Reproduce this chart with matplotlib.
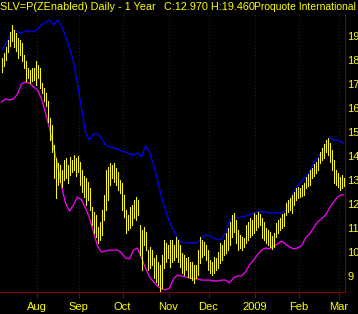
import matplotlib
matplotlib.use("Agg")
import matplotlib.pyplot as plt
import numpy as np

# ---- data ----
highs = [18.08, 18.29, 18.54, 18.83, 19.17, 19.46, 19.25, 19.13, 18.92, 18.83,
         18.71, 18.21, 17.96, 17.67, 17.58, 17.67, 17.67, 17.96, 17.79, 17.67,
         17.04, 16.83, 16.63, 16.29, 15.58, 15.29, 14.46, 13.92, 13.71, 13.63,
         13.42, 13.83, 13.92, 13.63, 13.96, 13.83, 14.04, 13.92, 14.00, 13.75,
         13.42, 13.17, 13.08, 12.92, 12.67, 11.88, 11.67, 11.54, 11.04, 11.25,
         11.75, 12.38, 13.42, 13.54, 13.71, 13.63, 13.71, 13.50, 13.33, 13.00,
         12.88, 12.38, 11.75, 11.54, 11.88, 11.96, 12.17, 12.29, 12.17, 11.13,
         10.92, 11.04, 10.83, 10.08, 10.21, 10.08, 9.75, 9.88, 9.58, 9.46,
         9.88, 10.50, 10.38, 10.29, 10.50, 10.50, 10.29, 10.63, 10.50, 10.29,
         9.96, 9.88, 9.75, 9.79, 9.58, 9.58, 9.46, 9.46, 10.08, 10.63,
         10.50, 10.42, 10.29, 10.08, 9.67, 9.58, 9.79, 9.75, 10.00, 10.38,
         10.29, 10.50, 10.79, 11.00, 11.25, 11.54, 11.63, 11.33, 10.92, 10.71,
         10.63, 10.58, 11.13, 11.25, 11.42, 11.33, 11.63, 11.54, 11.67, 11.58,
         11.42, 11.25, 11.00, 10.92, 10.83, 10.67, 10.79, 11.21, 11.33, 11.42,
         11.58, 11.63, 12.04, 12.17, 12.25, 12.38, 12.50, 12.67, 12.71, 12.67,
         12.79, 12.88, 13.13, 13.25, 13.42, 13.50, 13.67, 13.75, 13.92, 14.17,
         14.33, 14.50, 14.67, 14.75, 14.54, 14.25, 13.83, 13.42, 13.29, 13.13,
         13.21, 13.08]
lows = [17.50, 17.75, 18.00, 18.33, 18.58, 18.79, 18.54, 18.38, 18.08, 18.21,
        17.96, 17.67, 17.13, 17.25, 17.04, 17.13, 17.17, 16.96, 17.25, 16.83,
        16.63, 16.29, 16.08, 15.42, 14.67, 14.17, 13.08, 12.25, 12.79, 12.92,
        12.71, 13.00, 13.08, 12.88, 13.21, 13.33, 13.42, 13.17, 13.33, 12.79,
        12.50, 12.29, 11.96, 12.17, 11.75, 11.13, 10.79, 10.63, 10.38, 10.50,
        10.71, 11.33, 11.75, 12.17, 12.79, 13.08, 12.92, 12.79, 12.58, 12.46,
        11.75, 11.46, 10.79, 10.92, 11.00, 11.13, 11.42, 11.33, 11.54, 9.88,
        9.25, 10.29, 10.08, 9.25, 9.33, 9.46, 8.92, 8.75, 8.63, 8.38,
        8.50, 9.33, 9.58, 9.75, 9.38, 9.58, 9.67, 9.79, 9.58, 9.38,
        9.13, 9.04, 9.25, 8.96, 8.92, 8.83, 8.71, 8.92, 9.04, 9.54,
        9.79, 9.88, 9.67, 9.25, 9.13, 9.04, 9.13, 9.25, 9.33, 9.54,
        9.67, 9.88, 9.96, 10.08, 10.29, 10.63, 10.83, 10.38, 10.08, 10.17,
        10.08, 10.21, 10.38, 10.50, 10.63, 10.71, 10.79, 10.92, 11.04, 11.13,
        10.58, 10.50, 10.38, 10.29, 10.21, 10.13, 10.21, 10.63, 10.79, 10.92,
        11.00, 11.08, 11.54, 11.67, 11.75, 11.63, 11.96, 12.17, 12.25, 12.29,
        12.33, 12.38, 12.67, 12.75, 12.79, 13.08, 13.17, 13.29, 13.42, 13.71,
        13.83, 13.92, 14.17, 14.04, 13.75, 13.42, 12.88, 12.79, 12.71, 12.58,
        12.67, 12.75]

band_idx = list(range(0, 171, 2)) + [171]
upper_band = [18.42, 18.63, 19.00, 19.25, 19.17, 19.13, 19.21, 19.21, 19.17, 19.29,
              19.46, 19.58, 19.67, 19.46, 19.67, 19.42, 19.00, 18.50, 17.92, 17.00,
              16.00, 14.96, 14.67, 14.92, 14.92, 14.75, 14.46, 14.38, 14.33, 14.29,
              14.21, 14.17, 14.08, 14.04, 14.13, 13.96, 14.42, 14.17, 13.63, 13.00,
              12.29, 11.75, 11.25, 10.92, 10.54, 10.42, 10.38, 10.38, 10.38, 10.38,
              10.58, 10.71, 10.67, 10.58, 10.50, 10.54, 10.79, 11.33, 11.46, 11.42,
              11.46, 11.50, 11.54, 11.63, 11.67, 11.67, 11.67, 11.63, 11.63, 11.63,
              11.63, 11.75, 12.04, 12.50, 12.75, 12.92, 13.13, 13.33, 13.71, 13.92,
              14.13, 14.46, 14.79, 14.67, 14.67, 14.58, 14.54]
lower_band = [16.25, 16.38, 16.33, 16.38, 16.58, 17.00, 17.08, 17.04, 16.88, 16.75,
              16.38, 15.79, 15.17, 14.38, 13.63, 12.75, 12.04, 11.71, 11.96, 12.29,
              12.17, 11.83, 11.42, 10.83, 10.25, 10.00, 10.04, 10.08, 10.08, 10.08,
              9.96, 9.75, 9.71, 10.08, 10.17, 9.75, 9.33, 8.96, 8.75, 8.58,
              8.46, 8.42, 8.50, 8.88, 9.04, 9.00, 8.96, 8.92, 8.88, 8.88,
              8.83, 8.83, 8.83, 8.79, 8.79, 8.83, 8.83, 8.71, 8.92, 9.00,
              9.00, 9.17, 9.46, 9.67, 9.88, 10.08, 10.17, 10.13, 10.25, 10.33,
              10.46, 10.33, 10.21, 10.13, 10.17, 10.25, 10.58, 10.75, 11.00, 11.25,
              11.38, 11.54, 11.83, 12.08, 12.29, 12.38, 12.38]

month_labels = ["Aug", "Sep", "Oct", "Nov", "Dec", "2009", "Feb", "Mar"]
month_pos = [17.5, 38.5, 60.5, 83.5, 103.5, 126.5, 148.5, 168.5]
y_ticks = [9, 10, 11, 12, 13, 14, 15, 16, 17, 18, 19]

title_left = "SLV=P(ZEnabled) Daily - 1 Year"
title_mid = "C:12.970 H:19.460"
title_right = "Proquote International"

# ---- figure ----
W, H = 358, 314
fig = plt.figure(figsize=(W / 100, H / 100), dpi=100, facecolor="black")
ax = fig.add_axes([0, (H - 292) / H, 345 / W, (292 - 14) / H], facecolor="black")

FONT = "Liberation Sans"
YEL = "#FFFF00"
DKRED = "#800000"

x = np.arange(len(highs))
ax.vlines(x, lows, highs, colors=YEL, linewidth=0.6, antialiased=False, zorder=3)
ax.plot(band_idx, upper_band, color="#0000FF", linewidth=0.9, zorder=2)
ax.plot(band_idx, lower_band, color="#FF00FF", linewidth=0.9, zorder=2)

for p in month_pos:
    ax.axvline(p, color=DKRED, linewidth=0.8, linestyle=(0, (0.8, 2.2)), zorder=1)

ax.set_xlim(-0.75, 171.75)
ax.set_ylim(20.5 - 292 / 24, 20.5 - 14 / 24)

ax.set_xticks(month_pos)
ax.set_xticklabels(month_labels, color=YEL, fontsize=8, family=FONT)
ax.tick_params(axis="x", colors=DKRED, length=4, width=0.8, pad=3, labelcolor=YEL)

ax.yaxis.tick_right()
ax.set_yticks(y_ticks)
ax.set_yticklabels([str(v) for v in y_ticks], color=YEL, fontsize=8, family=FONT)
ax.tick_params(axis="y", length=0, pad=1.5, labelcolor=YEL)

for s in ["top", "left"]:
    ax.spines[s].set_visible(False)
for s in ["right", "bottom"]:
    ax.spines[s].set_color(DKRED)
    ax.spines[s].set_linewidth(0.8)

ty = 1 - 10.5 / H
fig.text(0 / W, ty, title_left, color=YEL, fontsize=7.8, family=FONT, va="baseline", ha="left")
fig.text(164 / W, ty, title_mid, color=YEL, fontsize=7.8, family=FONT, va="baseline", ha="left")
fig.text(356 / W, ty, title_right, color=YEL, fontsize=7.5, family=FONT, va="baseline", ha="right")

fig.savefig("out.png", dpi=100, facecolor="black")
